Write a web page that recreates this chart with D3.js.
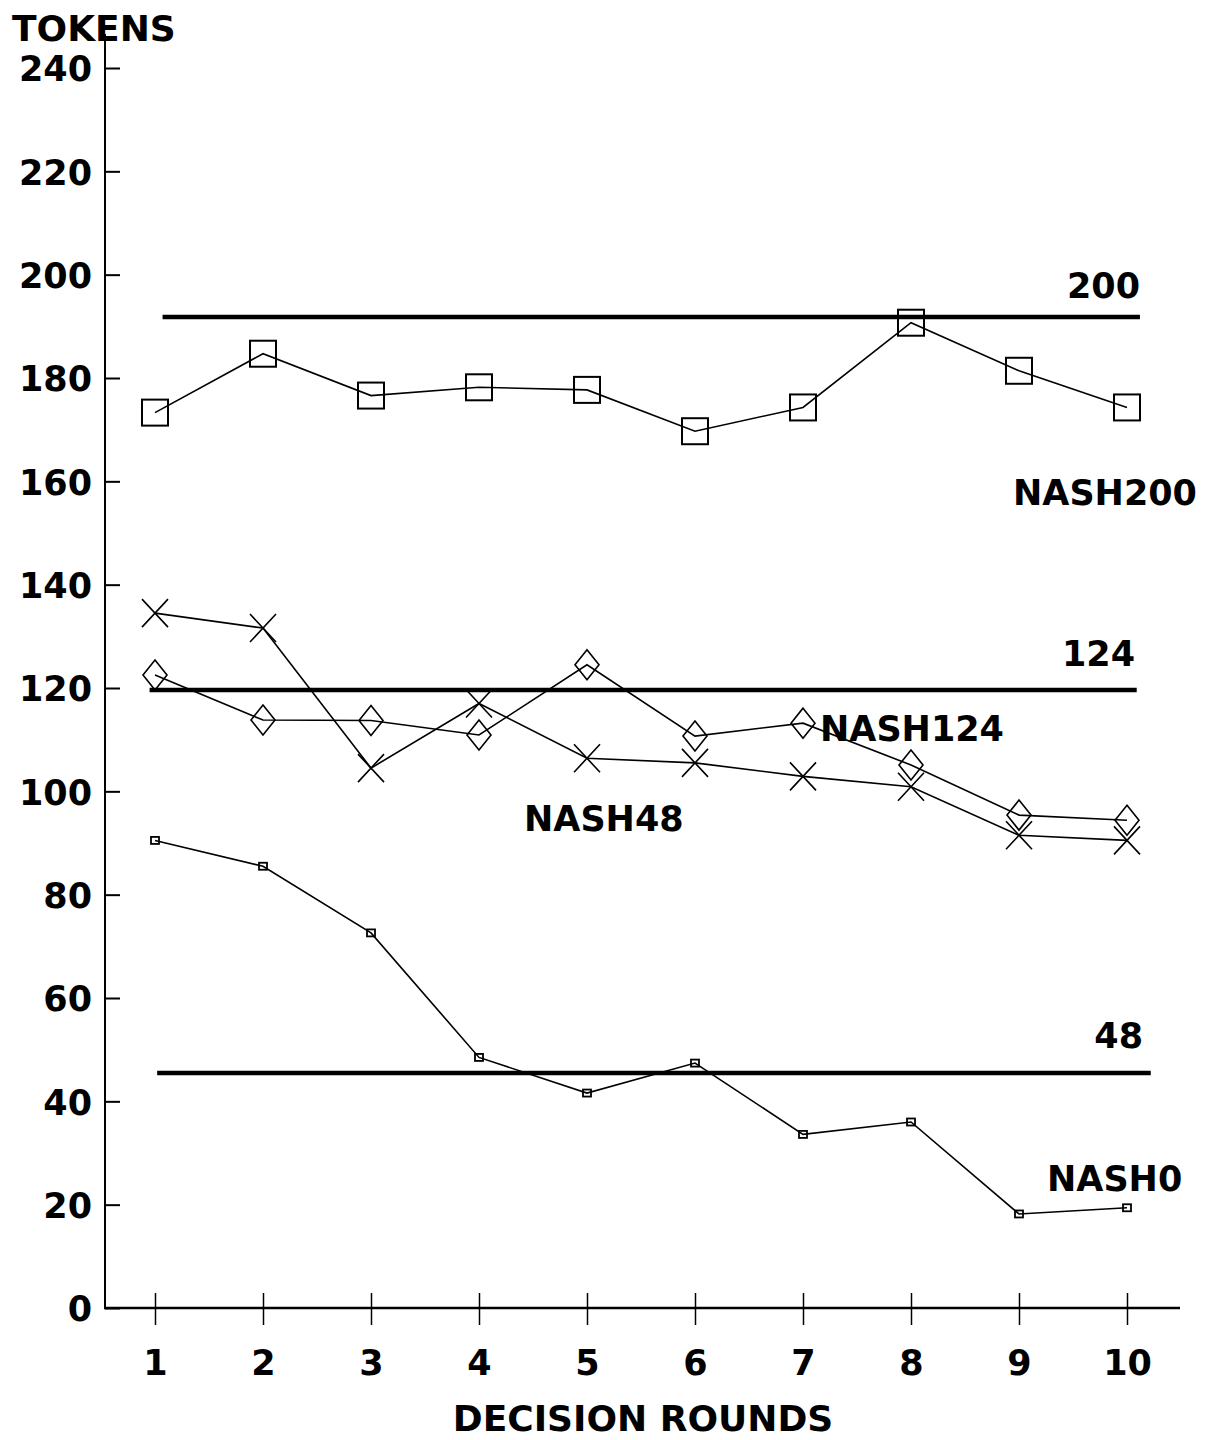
<!DOCTYPE html>
<html>
<head>
<meta charset="utf-8">
<script src="https://cdn.jsdelivr.net/npm/d3@7"></script>
<style>
  body { margin: 0; background: #fff; }
  svg { display: block; }
  text { font-family: "DejaVu Sans", "Liberation Sans", sans-serif; font-weight: bold; fill: #000; }
</style>
</head>
<body>
<svg id="plot" width="1212" height="1440"></svg>
<script>
const svg = d3.select('#plot');

// Data
const rounds = [1, 2, 3, 4, 5, 6, 7, 8, 9, 10];
const nash200 = [173.3, 184.7, 176.6, 178.2, 177.7, 169.7, 174.3, 190.7, 181.4, 174.3];
const nash124 = [122.5, 113.8, 113.7, 110.9, 124.5, 110.7, 113.2, 105.1, 95.4, 94.4];
const nash48 = [134.5, 131.6, 104.5, 117.0, 106.4, 105.5, 102.9, 100.9, 91.5, 90.5];
const nash0 = [90.5, 85.5, 72.6, 48.5, 41.6, 47.4, 33.6, 36.0, 18.2, 19.4];

const refLabels = ['200', '124', '48'];
const refValues = [191.8, 119.6, 45.5];
const refStart = [1.07, 0.95, 1.02];
const refEnd = [10.12, 10.09, 10.22];

const yTicks = [0, 20, 40, 60, 80, 100, 120, 140, 160, 180, 200, 220, 240];

const xScale = d3.scaleLinear().domain([1, 10]).range([155, 1127]);
const yScale = d3.scaleLinear().domain([0, 240]).range([1308, 68]);

// Axes
const yAxis = d3.axisLeft(yScale)
    .tickValues(yTicks)
    .tickSize(-15)
    .tickPadding(13);

const yAxisG = svg.append('g')
    .attr('transform', 'translate(105, 0)')
    .call(yAxis);
yAxisG.select('.domain').remove();
yAxisG.selectAll('.tick line').attr('stroke', '#000').attr('stroke-width', 2);
yAxisG.selectAll('.tick text')
    .attr('font-size', 35)
    .attr('font-family', null)
    .attr('dy', '0.37em');

svg.append('line')
    .attr('x1', 105).attr('x2', 105)
    .attr('y1', 34).attr('y2', 1309)
    .attr('stroke', '#000').attr('stroke-width', 2);

const xAxis = d3.axisBottom(xScale)
    .tickValues(rounds)
    .tickFormat(d3.format('d'))
    .tickSize(17);

const xAxisG = svg.append('g')
    .attr('transform', 'translate(0, 1308)')
    .call(xAxis);
xAxisG.select('.domain').remove();
xAxisG.selectAll('.tick line')
    .attr('y1', -15)
    .attr('stroke', '#000').attr('stroke-width', 1.5);
xAxisG.selectAll('.tick text')
    .attr('font-size', 35)
    .attr('font-family', null)
    .attr('y', 67)
    .attr('dy', null);

svg.append('line')
    .attr('x1', 104).attr('x2', 1180)
    .attr('y1', 1308).attr('y2', 1308)
    .attr('stroke', '#000').attr('stroke-width', 2.5);

svg.append('text')
    .attr('x', 12).attr('y', 41)
    .attr('font-size', 36)
    .text('TOKENS');

svg.append('text')
    .attr('x', 643).attr('y', 1431)
    .attr('text-anchor', 'middle')
    .attr('font-size', 36)
    .text('DECISION ROUNDS');

// Reference (Nash) lines
refValues.forEach((v, i) => {
    svg.append('line')
        .attr('x1', xScale(refStart[i])).attr('x2', xScale(refEnd[i]))
        .attr('y1', yScale(v)).attr('y2', yScale(v))
        .attr('stroke', '#000').attr('stroke-width', 4.5);
});

const refLabelX = [1140, 1135, 1143];
const refLabelY = [298, 666, 1048];
refLabels.forEach((t, i) => {
    svg.append('text')
        .attr('x', refLabelX[i]).attr('y', refLabelY[i])
        .attr('text-anchor', 'end')
        .attr('font-size', 35)
        .text(t);
});

// Series
const lineGen = d3.line()
    .x((d, i) => xScale(rounds[i]))
    .y(d => yScale(d));

const drawLine = (vals) => {
    svg.append('path')
        .attr('d', lineGen(vals))
        .attr('fill', 'none')
        .attr('stroke', '#000')
        .attr('stroke-width', 1.6);
};

[nash200, nash124, nash48, nash0].forEach(drawLine);

// square markers
svg.append('g').selectAll('rect').data(nash200)
    .enter().append('rect')
        .attr('x', (d, i) => xScale(rounds[i]) - 13)
        .attr('y', d => yScale(d) - 13)
        .attr('width', 26)
        .attr('height', 26)
        .attr('fill', 'none')
        .attr('stroke', '#000')
        .attr('stroke-width', 2);

// diamond markers
svg.append('g').selectAll('path').data(nash124)
    .enter().append('path')
        .attr('transform', (d, i) => `translate(${xScale(rounds[i])}, ${yScale(d)})`)
        .attr('d', 'M0,-15 L12,0 L0,15 L-12,0 Z')
        .attr('fill', 'none')
        .attr('stroke', '#000')
        .attr('stroke-width', 1.6);

// x markers
svg.append('g').selectAll('path').data(nash48)
    .enter().append('path')
        .attr('transform', (d, i) => `translate(${xScale(rounds[i])}, ${yScale(d)})`)
        .attr('d', 'M-13,-14 L13,14 M-13,14 L13,-14')
        .attr('fill', 'none')
        .attr('stroke', '#000')
        .attr('stroke-width', 1.6);

// small square markers
svg.append('g').selectAll('rect').data(nash0)
    .enter().append('rect')
        .attr('x', (d, i) => xScale(rounds[i]) - 4)
        .attr('y', d => yScale(d) - 3.5)
        .attr('width', 8)
        .attr('height', 7)
        .attr('fill', 'none')
        .attr('stroke', '#000')
        .attr('stroke-width', 1.8);

// Series labels
const seriesLabels = ['NASH200', 'NASH124', 'NASH48', 'NASH0'];
const seriesLabelX = [1013, 820, 524, 1047];
const seriesLabelY = [505, 741, 831, 1191];
seriesLabels.forEach((t, i) => {
    svg.append('text')
        .attr('x', seriesLabelX[i]).attr('y', seriesLabelY[i])
        .attr('font-size', 35)
        .text(t);
});
</script>
</body>
</html>
